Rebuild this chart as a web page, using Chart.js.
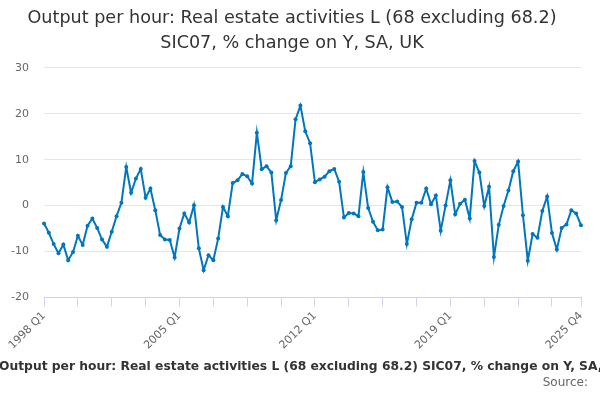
<!DOCTYPE html>
<html>
<head>
<meta charset="utf-8">
<script src="https://cdn.jsdelivr.net/npm/chart.js@4"></script>
<style>
  html, body { margin: 0; padding: 0; background: #fff; }
</style>
</head>
<body>
<canvas id="chart" width="600" height="400"></canvas>
<script>
const titleLines = ["Output per hour: Real estate activities L (68 excluding 68.2)", "SIC07, % change on Y, SA, UK"];
const captionText = "Output per hour: Real estate activities L (68 excluding 68.2) SIC07, % change on Y, SA, UK";
const sourceText = "Source:";

// quarters 1998 Q1 .. 2025 Q4
const quarters = [];
for (let y = 1998; y <= 2025; y++) {
    for (let q = 1; q <= 4; q++) quarters.push(y + " Q" + q);
}

const values = [
    -3.9, -5.9, -8.4, -10.4, -8.5, -11.9, -10.1, -6.6, -8.6, -4.4,
    -2.8, -4.9, -7.4, -9.0, -5.7, -2.3, 0.6, 8.4, 2.8, 5.9,
    8.0, 1.7, 3.7, -1.0, -6.4, -7.4, -7.5, -11.3, -5.0, -1.7,
    -3.7, 0.1, -9.3, -14.1, -10.8, -11.9, -7.2, -0.3, -2.3, 4.9,
    5.5, 6.9, 6.4, 4.8, 15.9, 7.9, 8.6, 7.2, -3.2, 1.2,
    7.1, 8.6, 18.8, 21.8, 16.2, 13.6, 5.1, 5.7, 6.3, 7.5,
    8.0, 5.2, -2.6, -1.6, -1.7, -2.3, 7.3, -0.5, -3.5, -5.4,
    -5.2, 4.0, 0.8, 0.9, -0.3, -8.4, -3.0, 0.6, 0.6, 3.7,
    0.3, 2.2, -5.5, 0.0, 5.5, -1.9, 0.4, 1.3, -2.8, 9.7,
    7.2, -0.1, 4.1, -11.2, -4.2, -0.1, 3.3, 7.5, 9.6, -2.1,
    -12.0, -6.2, -7.0, -1.2, 2.0, -6.0, -9.6, -4.9, -4.1, -1.0,
    -1.7, -4.3
];

const labelIdx = [0, 28, 56, 84, 111];
const lastIdx = quarters.length - 1;

// caption + source under the axis
const captionPlugin = {
    id: "caption",
    afterDraw(chart) {
        const c = chart.ctx;
        c.save();
        c.textBaseline = "middle";
        c.fillStyle = "#333";
        c.font = "bold 12.3px 'DejaVu Sans'";
        c.textAlign = "left";
        c.fillText(captionText, -1, 367);
        c.fillStyle = "#666";
        c.font = "12px 'DejaVu Sans'";
        c.textAlign = "right";
        c.fillText(sourceText, 588, 383);
        c.restore();
    }
};

Chart.defaults.font.family = "'DejaVu Sans'";

new Chart(document.getElementById("chart"), {
    type: "line",
    data: {
        labels: quarters,
        datasets: [{
            data: values,
            borderColor: "#0076bf",
            backgroundColor: "#0076bf",
            borderWidth: 2,
            pointRadius: 2,
            pointBorderWidth: 0,
            pointHoverRadius: 3,
            tension: 0
        }]
    },
    options: {
        responsive: false,
        animation: false,
        devicePixelRatio: 1,
        layout: { padding: { left: 3, right: 19, top: 0, bottom: 45 } },
        plugins: {
            legend: { display: false },
            tooltip: { enabled: false },
            title: {
                display: true,
                text: titleLines,
                color: "#333",
                font: { size: 17.6, weight: "normal", lineHeight: 1.42 },
                padding: { top: 6, bottom: 12 }
            }
        },
        scales: {
            x: {
                offset: false,
                afterFit: s => { s.paddingLeft = 0; s.paddingRight = 0; },
                grid: {
                    drawOnChartArea: false,
                    tickLength: 9,
                    color: ctx => (ctx.index % 7 === 0 || ctx.index === lastIdx) ? "#ccd6eb" : "rgba(0,0,0,0)"
                },
                border: { color: "#ccd6eb" },
                ticks: {
                    autoSkip: false,
                    minRotation: 45,
                    maxRotation: 45,
                    color: "#666",
                    font: { size: 11 },
                    callback: (v, i) => labelIdx.includes(i) ? quarters[i] : ""
                }
            },
            y: {
                min: -20,
                max: 30,
                afterFit: s => { s.width = 41; },
                ticks: { stepSize: 10, color: "#666", font: { size: 11 }, padding: 15 },
                grid: { color: "#e6e6e6", drawTicks: false },
                border: { display: false }
            }
        }
    },
    plugins: [captionPlugin]
});
</script>
</body>
</html>
